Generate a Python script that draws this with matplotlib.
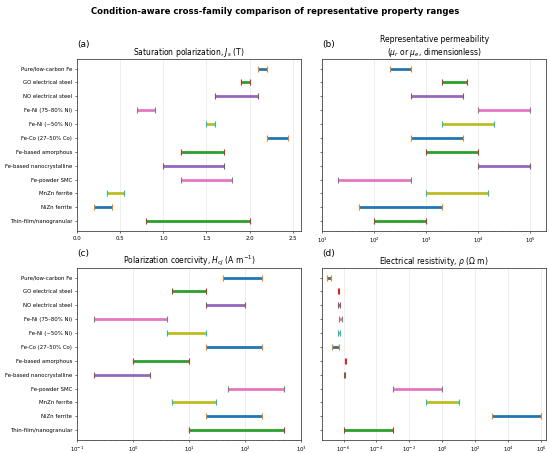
import numpy as np
import matplotlib
matplotlib.use("Agg")
import matplotlib.pyplot as plt

# material families, top to bottom
families = [
    "Pure/low-carbon Fe", "GO electrical steel", "NO electrical steel",
    "Fe-Ni (75–80% Ni)", "Fe-Ni (~50% Ni)", "Fe-Co (27–50% Co)",
    "Fe-based amorphous", "Fe-based nanocrystalline", "Fe-powder SMC",
    "MnZn ferrite", "NiZn ferrite", "Thin-film/nanogranular",
]

# saturation polarization Js (T)
js_lo = [2.10, 1.90, 1.60, 0.70, 1.50, 2.20, 1.20, 1.00, 1.20, 0.35, 0.20, 0.80]
js_hi = [2.20, 2.00, 2.10, 0.90, 1.60, 2.45, 1.70, 1.70, 1.80, 0.55, 0.40, 2.00]

# relative / effective permeability
mu_lo = [200, 2000, 500, 10000, 2000, 500, 1000, 10000, 20, 1000, 50, 100]
mu_hi = [500, 6000, 5000, 100000, 20000, 5000, 10000, 100000, 500, 15000, 2000, 1000]

# polarization coercivity HcJ (A/m)
hc_lo = [40, 5, 20, 0.2, 4, 20, 1, 0.2, 50, 5, 20, 10]
hc_hi = [200, 20, 100, 4, 20, 200, 10, 2, 500, 30, 200, 500]

# electrical resistivity (Ohm m)
rho_lo = [1.0e-7, 4.6e-7, 4.4e-7, 5.0e-7, 4.5e-7, 2.0e-7, 1.3e-6, 1.1e-6, 1e-3, 0.1, 1e3, 1e-6]
rho_hi = [1.7e-7, 5.0e-7, 6.5e-7, 8.5e-7, 6.0e-7, 5.5e-7, 1.4e-6, 1.25e-6, 1.0, 10, 1e6, 1e-3]

plt.rcParams["font.family"] = "DejaVu Sans"
plt.rcParams["xtick.labelsize"] = 3.9
plt.rcParams["ytick.labelsize"] = 3.9
plt.rcParams["xtick.major.size"] = 1.6
plt.rcParams["ytick.major.size"] = 1.6
plt.rcParams["xtick.minor.size"] = 0.9
plt.rcParams["xtick.major.width"] = 0.4
plt.rcParams["ytick.major.width"] = 0.4
plt.rcParams["xtick.minor.width"] = 0.3
plt.rcParams["xtick.major.pad"] = 1.8
plt.rcParams["ytick.major.pad"] = 1.8
plt.rcParams["axes.linewidth"] = 0.6
plt.rcParams["axes.edgecolor"] = "#444444"

fig, axes = plt.subplots(2, 2, figsize=(5.5, 4.53), dpi=100, sharey=True)
fig.subplots_adjust(left=0.14, right=0.993, top=0.870, bottom=0.029,
                    wspace=0.094, hspace=0.215)

y = np.arange(len(families))

panels = [
    (axes[0, 0], js_lo, js_hi, "linear", "Saturation polarization, $J_s$ (T)", "(a)"),
    (axes[0, 1], mu_lo, mu_hi, "log", "Representative permeability\n($\\mu_r$ or $\\mu_e$, dimensionless)", "(b)"),
    (axes[1, 0], hc_lo, hc_hi, "log", "Polarization coercivity, $H_{cJ}$ (A m$^{-1}$)", "(c)"),
    (axes[1, 1], rho_lo, rho_hi, "log", "Electrical resistivity, $\\rho$ ($\\Omega$ m)", "(d)"),
]

for ax, lo, hi, scale, title, tag in panels:
    for i in range(len(families)):
        ax.plot([lo[i], hi[i]], [y[i], y[i]], lw=2.0, solid_capstyle="butt")
        ax.plot([lo[i], hi[i]], [y[i], y[i]], "|", ms=4.4, mew=0.8)
    ax.set_xscale(scale)
    if scale == "log":
        ax.set_xlim(min(lo) / 2, max(hi) * 2)
    else:
        ax.set_xlim(0, max(hi) * 1.06)
    ax.grid(axis="x", which="major", color="#e2e2e2", lw=0.4)
    ax.set_axisbelow(True)
    ax.set_title(title, fontsize=5.5, pad=3)
    ax.text(0.0, 1.055, tag, transform=ax.transAxes, fontsize=6.5,
            ha="left", va="bottom")

axes[1, 1].set_xticks([1e-6, 1e-4, 1e-2, 1, 1e2, 1e4, 1e6])

axes[0, 0].set_yticks(y)
axes[0, 0].set_yticklabels(families)
axes[0, 0].set_ylim(len(families) - 0.3, -0.7)

fig.suptitle("Condition-aware cross-family comparison of representative property ranges",
             fontsize=6.1, fontweight="bold", y=0.985)

fig.savefig("out.png", dpi=100)
